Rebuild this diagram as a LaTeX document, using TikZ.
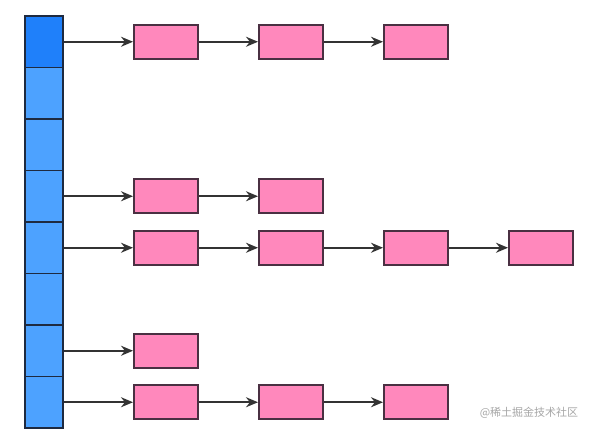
\documentclass[tikz,border=0pt]{standalone}
\usepackage{fontspec}
\usepackage{tikz}
\usetikzlibrary{arrows.meta,positioning}
\newfontfamily\cjk{Noto Sans CJK SC}
\definecolor{slot}{HTML}{4DA2FF}
\definecolor{slottop}{HTML}{1F80FA}
\definecolor{entry}{HTML}{FF88BC}
\definecolor{rim}{HTML}{1E2A40}
\definecolor{erim}{HTML}{4A3042}
\definecolor{wire}{HTML}{333333}

\begin{document}
\begin{tikzpicture}[x=1pt,y=-1pt,
  cell/.style={draw=rim,line width=1.9pt,fill=slot,inner sep=0pt,
               minimum width=38pt,minimum height=51.5pt},
  ent/.style={draw=erim,line width=2pt,fill=entry,inner sep=0pt,
              minimum width=64pt,minimum height=34pt},
  link/.style={-{Stealth[length=12pt,width=10pt]},wire,line width=1.8pt}]
\useasboundingbox (0,0) rectangle (599,435);

% bucket array
\foreach \i in {1,...,8}
  \node[cell] (c\i) at (44,{16+51.5*\i-25.75}) {};
\node[cell,fill=slottop] (c1) at (44,41.75) {};

% chains
\node[ent] (e11) at (166,41.75) {};
\node[ent,right=59pt of e11] (e12) {};
\node[ent,right=59pt of e12] (e13) {};

\node[ent] (e41) at (166,196.25) {};
\node[ent,right=59pt of e41] (e42) {};

\node[ent] (e51) at (166,247.75) {};
\node[ent,right=59pt of e51] (e52) {};
\node[ent,right=59pt of e52] (e53) {};
\node[ent,right=59pt of e53] (e54) {};

\node[ent] (e71) at (166,350.75) {};

\node[ent] (e81) at (166,402.25) {};
\node[ent,right=59pt of e81] (e82) {};
\node[ent,right=59pt of e82] (e83) {};

\draw[link] (c1) -- (e11);
\draw[link] (e11) -- (e12);
\draw[link] (e12) -- (e13);
\draw[link] (c4) -- (e41);
\draw[link] (e41) -- (e42);
\draw[link] (c5) -- (e51);
\draw[link] (e51) -- (e52);
\draw[link] (e52) -- (e53);
\draw[link] (e53) -- (e54);
\draw[link] (c7) -- (e71);
\draw[link] (c8) -- (e81);
\draw[link] (e81) -- (e82);
\draw[link] (e82) -- (e83);

\node[font=\cjk\fontsize{11}{13}\selectfont,text=black!35] (mark) at (529,413)
  {@稀土掘金技术社区};
\end{tikzpicture}
\end{document}
